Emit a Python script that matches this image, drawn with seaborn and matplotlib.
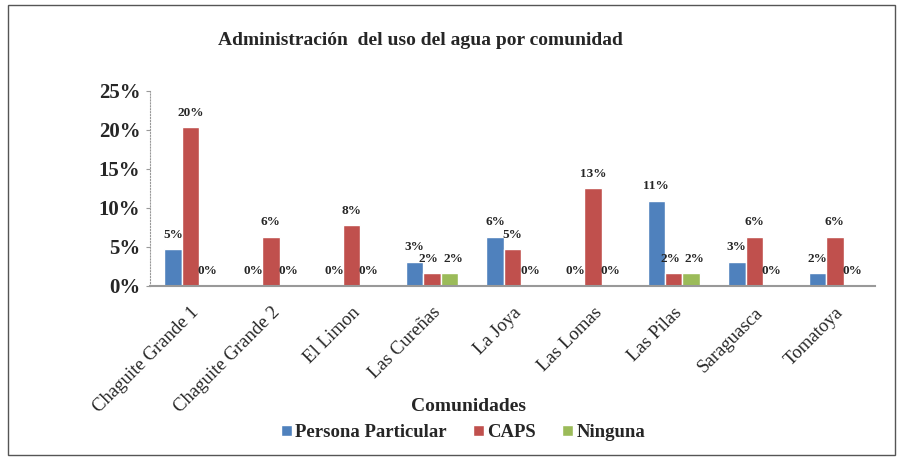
import matplotlib
matplotlib.use("Agg")
import matplotlib.pyplot as plt
import matplotlib.patches as patches
from matplotlib.ticker import FuncFormatter, MultipleLocator
import seaborn as sns
import pandas as pd

comunidades = ["Chaguite Grande 1", "Chaguite Grande 2", "El Limon", "Las Cureñas",
               "La Joya", "Las Lomas", "Las Pilas", "Saraguasca", "Tomatoya"]
persona_particular = [4.7, 0, 0, 3.1, 6.3, 0, 10.9, 3.1, 1.6]
caps = [20.3, 6.3, 7.8, 1.6, 4.7, 12.5, 1.6, 6.3, 6.3]
ninguna = [0, 0, 0, 1.6, 0, 0, 1.6, 0, 0]
series = ["Persona Particular", "CAPS", "Ninguna"]
colores = ["#4F81BD", "#C0504D", "#9BBB59"]

df = pd.DataFrame({
    "Comunidad": comunidades * 3,
    "Tipo": [s for s in series for _ in comunidades],
    "valor": persona_particular + caps + ninguna,
})

sns.set_style("white")
serif = ["Liberation Serif", "DejaVu Serif"]
plt.rcParams["font.family"] = serif

fig = plt.figure(figsize=(9.04, 4.61), dpi=100)
ax = fig.add_axes([0.166, 0.380, 0.802, 0.423])

sns.barplot(data=df, x="Comunidad", y="valor", hue="Tipo", palette=colores,
            saturation=1, width=0.65, ax=ax, legend=True)

etiquetas = []
for cont in ax.containers:
    vals = [b.get_height() for b in cont]
    etiquetas.append(ax.bar_label(cont, labels=[f"{int(v + 0.5)}%" for v in vals],
                                  padding=6, fontsize=9.5, fontweight="bold"))

# separar un poco las etiquetas "2%2%" que se tocan
for i, v in enumerate(ninguna):
    if v > 0 and abs(caps[i] - v) < 1:
        etiquetas[1][i].xyann = (-2.5, 6)
        etiquetas[2][i].xyann = (2.5, 6)

ax.set_ylim(0, 25)
ax.yaxis.set_major_locator(MultipleLocator(5))
ax.yaxis.set_major_formatter(FuncFormatter(lambda v, p: f"{v:.0f}%"))
ax.set_ylabel("")
ax.tick_params(axis="y", labelsize=15, length=3, color="#999999", direction="out",
               left=True, pad=4)
for t in ax.get_yticklabels():
    t.set_fontweight("bold")
ax.tick_params(axis="x", labelsize=13.5, length=0, pad=13)
plt.setp(ax.get_xticklabels(), rotation=45, ha="right", rotation_mode="anchor")

ax.set_xlabel("Comunidades", fontsize=14, fontweight="bold")
ax.xaxis.label.set_va("center")
ax.xaxis.set_label_coords(0.439, -0.62)

for s in ["top", "right"]:
    ax.spines[s].set_visible(False)
ax.spines["left"].set_color("#999999")
ax.spines["left"].set_linestyle(":")
ax.spines["bottom"].set_color("#999999")
ax.spines["bottom"].set_linewidth(1.5)

leg = ax.legend(loc="center", bbox_to_anchor=(0.432, -0.754), ncol=3, frameon=False,
                handlelength=0.55, handleheight=0.55, handletextpad=0.2,
                columnspacing=1.4,
                prop={"family": serif, "weight": "bold", "size": 13.5})

fig.text(0.465, 0.913, "Administración  del uso del agua por comunidad",
         ha="center", va="center", fontsize=14, fontweight="bold")

fig.patches.append(patches.Rectangle((8 / 904, 1 - 455 / 461), 887 / 904, 450 / 461,
                                     transform=fig.transFigure, fill=False,
                                     edgecolor="#555555", linewidth=1))

fig.savefig("out.png", dpi=100)
